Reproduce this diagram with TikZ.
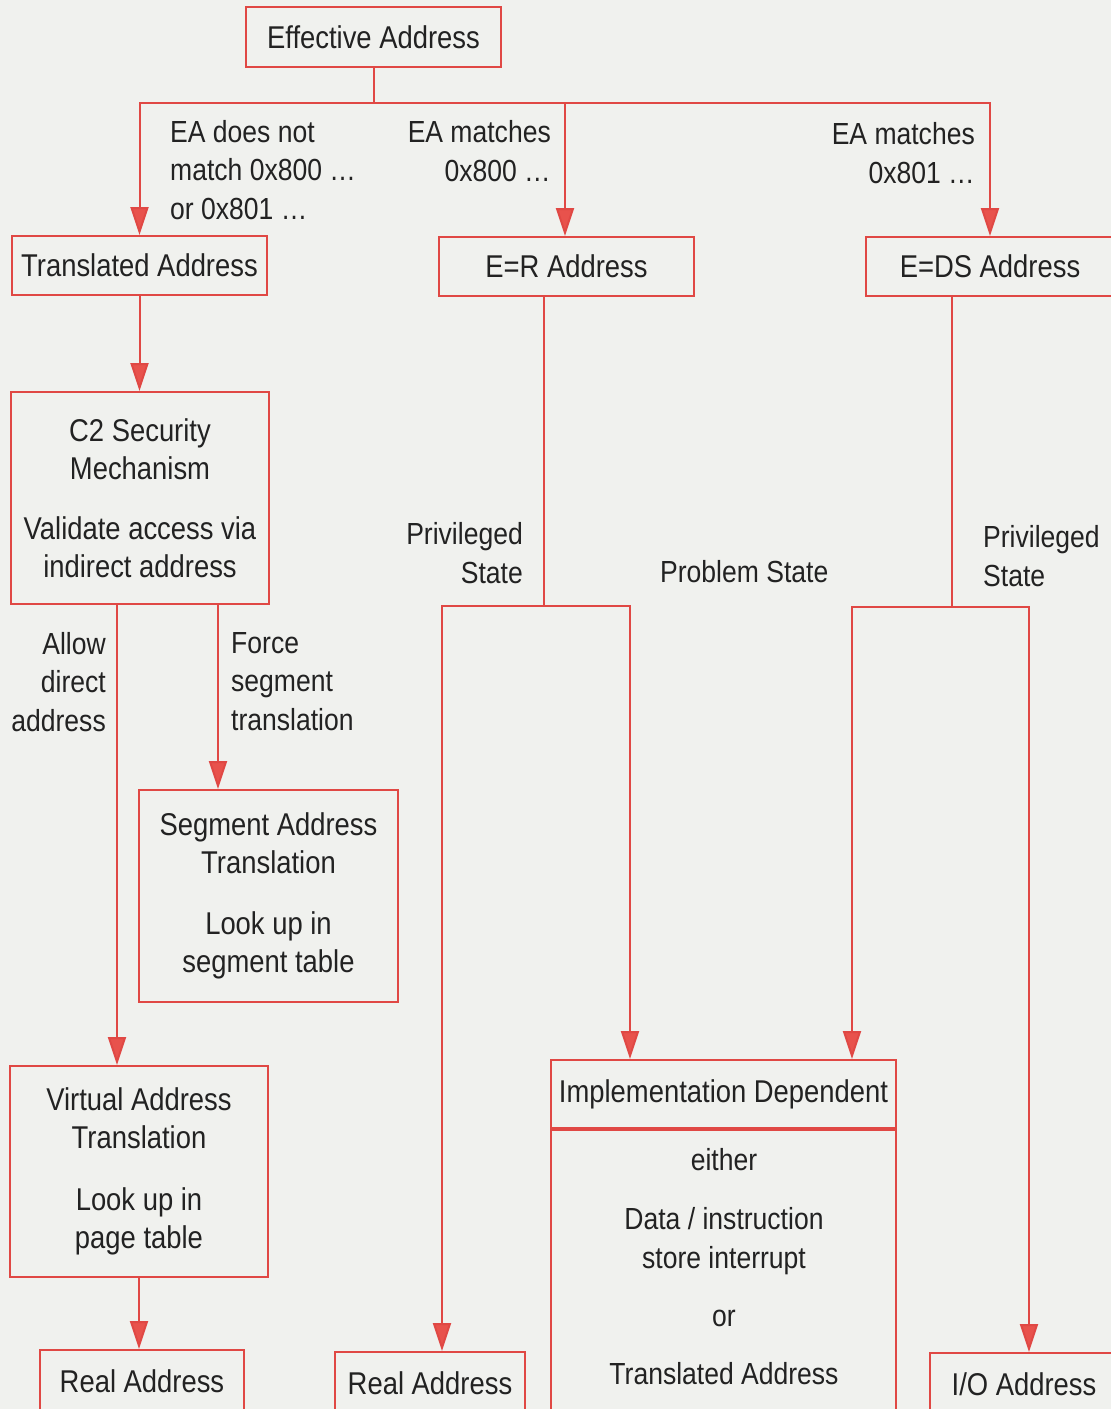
\documentclass[tikz,border=0pt]{standalone}
\usepackage{fontspec}
\setmainfont{Liberation Sans}[FakeStretch=0.87]
\usetikzlibrary{arrows.meta}
\definecolor{lnred}{HTML}{E04844}
\definecolor{tipred}{HTML}{E8524C}
\definecolor{paper}{HTML}{F0F1EE}
\definecolor{ink}{HTML}{222222}
\begin{document}
\begin{tikzpicture}[x=1pt,y=-1pt,
  box/.style={draw=lnred, line width=2pt, inner sep=0pt, align=center, text=ink,
    font=\fontsize{31.5}{38.5}\selectfont},
  lbl/.style={inner sep=0pt, text=ink, font=\fontsize{30.5}{38.5}\selectfont},
  conn/.style={draw=lnred, line width=2pt},
  arr/.style={conn, -{Triangle[length=28pt,width=18pt,fill=tipred]}}]
\fill[paper] (0,0) rectangle (1111,1409);
\useasboundingbox (0,0) rectangle (1111,1409);
\clip (0,0) rectangle (1111,1409);

% boxes
\node[box, minimum width=255, minimum height=60] (ea) at (373.5,37) {Effective Address};
\node[box, minimum width=255, minimum height=59] (ta) at (139.5,265.5) {Translated Address};
\node[box, minimum width=255, minimum height=59] (er) at (566.5,266.5) {E=R Address};
\node[box, minimum width=248, minimum height=59] (eds) at (990,266.5) {E=DS Address};
\node[box, minimum width=258, minimum height=212] (c2) at (140,498)
  {C2 Security\\Mechanism\\[21pt]Validate access via\\indirect address};
\node[box, minimum width=259, minimum height=212] (sat) at (268.5,896)
  {Segment Address\\Translation\\[22pt]Look up in\\segment table};
\node[box, minimum width=258, minimum height=211] (va) at (139,1171.5)
  {Virtual Address\\Translation\\[23pt]Look up in\\page table};
\node[box, minimum width=204, minimum height=62] (ra1) at (142,1381) {Real Address};
\node[box, minimum width=190, minimum height=62] (ra2) at (430,1383) {Real Address};
\node[box, minimum width=345, minimum height=68] (imp) at (723.5,1094) {Implementation Dependent};
\node[box, minimum width=345, minimum height=292, anchor=north] (body) at (imp.south) {};
\node[lbl, anchor=base, align=center] (bodytxt) at (724,1384)
  {either\\[20.5pt]Data / instruction\\store interrupt\\[19.5pt]or\\[19.5pt]Translated Address};
\node[box, minimum width=188, minimum height=62] (io) at (1024,1384) {I/O Address};

% labels (anchor base = baseline of last line)
\node[lbl, anchor=base west, align=left] (l1) at (170,219) {EA does not\\match 0x800 \ldots\\or 0x801 \ldots};
\node[lbl, anchor=base east, align=right] (l2) at (551,181) {EA matches\\0x800 \ldots};
\node[lbl, anchor=base east, align=right] (l3) at (975,183) {EA matches\\0x801 \ldots};
\node[lbl, anchor=base east, align=right] (l4) at (106,731) {Allow\\direct\\address};
\node[lbl, anchor=base west, align=left] (l5) at (231,730) {Force\\segment\\translation};
\node[lbl, anchor=base east, align=right] (l6) at (523,583) {Privileged\\State};
\node[lbl, anchor=base west] (l7) at (660,582) {Problem State};
\node[lbl, anchor=base west, align=left] (l8) at (983,586) {Privileged\\State};

% connectors
\coordinate (j1) at (373.5,103);
\draw[conn] (ea.south) -- (j1);
\draw[arr] (j1) -| (ta.north);
\draw[arr] (j1) -| ([xshift=-1.5pt]er.north);
\draw[arr] (j1) -| (eds.north);
\draw[arr] (ta.south) -- (ta.south |- c2.north);

\coordinate (c2l) at ([xshift=107pt]c2.south west);
\coordinate (c2r) at ([xshift=208pt]c2.south west);
\draw[arr] (c2l) -- (c2l |- va.north);
\draw[arr] (c2r) -- (c2r |- sat.north);
\draw[arr] (va.south) -- (va.south |- ra1.north);

\coordinate (erf) at ([xshift=106pt]er.south west);
\path (erf) ++(0,309) coordinate (j2);
\draw[conn] (erf) -- (j2);
\coordinate (ra2t) at ([xshift=108pt]ra2.north west);
\coordinate (impl) at ([xshift=80pt]imp.north west);
\coordinate (impr) at ([xshift=302pt]imp.north west);
\draw[arr] (j2) -| (ra2t);
\draw[arr] (j2) -| (impl);

\coordinate (edsf) at ([xshift=87pt]eds.south west);
\path (edsf) ++(0,310) coordinate (j3);
\draw[conn] (edsf) -- (j3);
\coordinate (iot) at ([xshift=100pt]io.north west);
\draw[arr] (j3) -| (impr);
\draw[arr] (j3) -| (iot);
\end{tikzpicture}
\end{document}
